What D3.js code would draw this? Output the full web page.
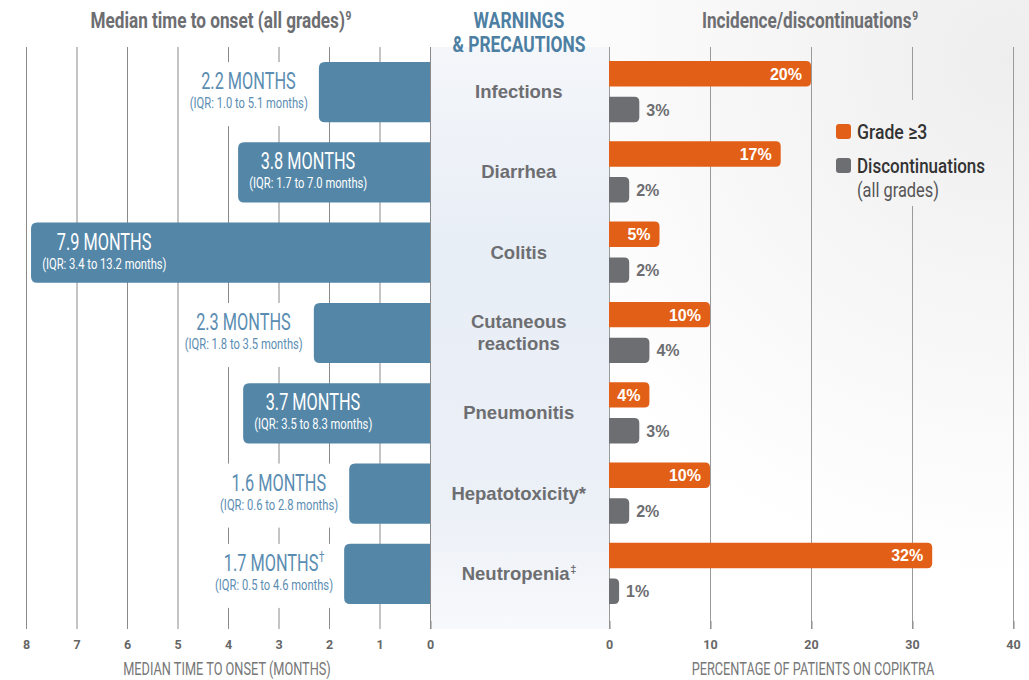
<!DOCTYPE html>
<html>
<head>
<meta charset="utf-8">
<script src="https://cdn.jsdelivr.net/npm/d3@7"></script>
<style>
  html, body { margin: 0; padding: 0; background: #fff; }
  svg { display: block; }
</style>
</head>
<body>
<svg id="chart" width="1029" height="680"></svg>
<script>
// data
var categories = ["Infections", "Diarrhea", "Colitis", "Cutaneous\nreactions", "Pneumonitis", "Hepatotoxicity*", "Neutropenia‡"];
var medianMonths = [2.2, 3.8, 7.9, 2.3, 3.7, 1.6, 1.7];
var medianLabels = ["2.2 MONTHS", "3.8 MONTHS", "7.9 MONTHS", "2.3 MONTHS", "3.7 MONTHS", "1.6 MONTHS", "1.7 MONTHS†"];
var iqrLabels = ["(IQR: 1.0 to 5.1 months)", "(IQR: 1.7 to 7.0 months)", "(IQR: 3.4 to 13.2 months)", "(IQR: 1.8 to 3.5 months)",
  "(IQR: 3.5 to 8.3 months)", "(IQR: 0.6 to 2.8 months)", "(IQR: 0.5 to 4.6 months)"];
var grade3 = [20, 17, 5, 10, 4, 10, 32];
var discontinued = [3, 2, 2, 4, 3, 2, 1];
var monthTicks = [0, 1, 2, 3, 4, 5, 6, 7, 8];
var pctTicks = [0, 10, 20, 30, 40];
var seriesNames = ["Grade ≥3", "Discontinuations"];

var COND = "Roboto, 'Liberation Sans', sans-serif";   // squeezed horizontally below
var SANS = "'Liberation Sans', Arial, sans-serif";
var blueBar = "#5386a7", blueText = "#5b8db2", orange = "#e25f17", greyBar = "#6d6e71", greyText = "#6d6e71";

var svg = d3.select("#chart");
var gridTop = 47, gridBottom = 629;

var xL = d3.scaleLinear().domain([0, 8]).range([430, 26]);
var xR = d3.scaleLinear().domain([0, 40]).range([609, 1013]);
var y = d3.scaleBand().domain(categories).range([62, 604]).paddingInner(0.25);
var ySub = d3.scaleBand().domain(seriesNames).range([0, y.bandwidth()]).paddingInner(0.27);

// no narrow font installed, so squeeze text around its own anchor point
function squeeze(sel, f) {
	sel.each(function() {
		var t = d3.select(this), x = +t.attr("x") || 0, yy = +t.attr("y") || 0;
		t.attr("transform", "translate(" + x + "," + yy + ") scale(" + f + ",1) translate(" + (-x) + "," + (-yy) + ")");
	});
	return sel;
}

// text with an optional trailing superscript mark, drawn as two texts
function supLabel(g, str, x, yy, size, f, anchor, font, weight, col) {
	var m = str.match(/^(.*?)([†‡⁹]?)$/);
	var t = g.append("text").attr("y", yy).attr("font-family", font).attr("font-weight", weight)
		.attr("font-size", size).attr("fill", col).text(m[1]);
	var w = t.node().getComputedTextLength() * f;
	var ws = 0, s = null;
	if (m[2]) {
		s = g.append("text").attr("y", yy - size * 0.38).attr("font-family", font).attr("font-weight", weight)
			.attr("font-size", size * 0.6).attr("fill", col).text(m[2] == "⁹" ? "9" : m[2]);
		ws = s.node().getComputedTextLength() * f;
	}
	var start = anchor == "middle" ? x - (w + ws + 0.5) / 2 : x;
	squeeze(t.attr("x", start), f);
	if (s) squeeze(s.attr("x", start + w + 0.5), f);
	return w + ws;
}

function leftRounded(x0, x1, y0, h, r) {
	return "M" + x1 + "," + y0 + "H" + (x0 + r) + "Q" + x0 + "," + y0 + " " + x0 + "," + (y0 + r) +
		"V" + (y0 + h - r) + "Q" + x0 + "," + (y0 + h) + " " + (x0 + r) + "," + (y0 + h) + "H" + x1 + "Z";
}
function rightRounded(x0, x1, y0, h, r) {
	return "M" + x0 + "," + y0 + "H" + (x1 - r) + "Q" + x1 + "," + y0 + " " + x1 + "," + (y0 + r) +
		"V" + (y0 + h - r) + "Q" + x1 + "," + (y0 + h) + " " + (x1 - r) + "," + (y0 + h) + "H" + x0 + "Z";
}

var defs = svg.append("defs");
var bgGrad = defs.append("radialGradient").attr("id", "bg").attr("gradientUnits", "userSpaceOnUse")
	.attr("cx", 1010).attr("cy", 60).attr("r", 520);
bgGrad.append("stop").attr("offset", "0%").attr("stop-color", "#eeeeee");
bgGrad.append("stop").attr("offset", "100%").attr("stop-color", "#ffffff");
svg.append("rect").attr("width", 1029).attr("height", 680).attr("fill", "url(#bg)");

// gridlines
svg.append("g").selectAll("line").data(monthTicks).enter().append("line")
	.attr("x1", function(d) { return xL(d) + 0.5 }).attr("x2", function(d) { return xL(d) + 0.5 })
	.attr("y1", gridTop).attr("y2", gridBottom)
	.attr("stroke", "#8a8a8a").attr("stroke-width", 1);
svg.append("g").selectAll("line").data(pctTicks).enter().append("line")
	.attr("x1", function(d) { return xR(d) + 0.5 }).attr("x2", function(d) { return xR(d) + 0.5 })
	.attr("y1", gridTop).attr("y2", gridBottom)
	.attr("stroke", "#9a9a9a").attr("stroke-width", 1);

// centre panel
var grad = defs.append("linearGradient").attr("id", "panel").attr("x1", 0).attr("y1", 0).attr("x2", 0).attr("y2", 1);
grad.append("stop").attr("offset", "0%").attr("stop-color", "#f4f6fa");
grad.append("stop").attr("offset", "35%").attr("stop-color", "#e8eef6");
grad.append("stop").attr("offset", "80%").attr("stop-color", "#ecf0f7");
grad.append("stop").attr("offset", "100%").attr("stop-color", "#f8f9fc");
svg.append("rect").attr("x", xL(0) + 1).attr("y", gridTop).attr("width", xR(0) - xL(0) - 1).attr("height", gridBottom - gridTop)
	.attr("fill", "url(#panel)");

// left bars
var rows = svg.append("g").selectAll("g").data(categories).enter().append("g");
rows.append("path")
	.attr("d", function(d, i) { return leftRounded(xL(medianMonths[i]), xL(0), y(d), y.bandwidth(), 6) })
	.attr("fill", blueBar);

// month labels
rows.each(function(d, i) {
	var g = d3.select(this);
	var inside = medianMonths[i] > 3;
	var left = xL(medianMonths[i]);
	var cy = y(d) + y.bandwidth() / 2;
	var col = inside ? "#fff" : blueText;
	var bg = g.append("rect").attr("fill", "url(#bg)");
	var iqr = g.append("text").attr("y", cy + 16).attr("font-family", COND).attr("font-size", 14)
		.attr("fill", col).attr("text-anchor", "middle").text(iqrLabels[i]);
	var w = iqr.node().getComputedTextLength() * 0.8;
	var cx = inside ? left + 11 + w / 2 : left - 11 - w / 2;
	squeeze(iqr.attr("x", cx), 0.8);
	supLabel(g, medianLabels[i], cx, cy - 3, 24, 0.68, "middle", COND, 400, col);
	if (inside) bg.remove();
	else bg.attr("x", cx - w / 2 - 3).attr("y", cy - 30).attr("width", w + 6).attr("height", 64);
});

// category labels
rows.each(function(d, i) {
	var lines = d.split("\n");
	var cy = y(d) + y.bandwidth() / 2;
	var g = d3.select(this);
	lines.forEach(function(l, j) {
		var ly = cy + 6 + (j - (lines.length - 1) / 2) * 22;
		supLabel(g, l, 519, ly, 18.5, 1, "middle", SANS, 700, greyText);
	});
});

// right bars
rows.append("path")
	.attr("d", function(d, i) { return rightRounded(xR(0), xR(grade3[i]), y(d) + ySub(seriesNames[0]) - 1, ySub.bandwidth(), 5) })
	.attr("fill", orange);
rows.append("path")
	.attr("d", function(d, i) { return rightRounded(xR(0), xR(discontinued[i]), y(d) + ySub(seriesNames[1]), ySub.bandwidth(), 5) })
	.attr("fill", greyBar);
rows.append("text")
	.attr("x", function(d, i) { return xR(grade3[i]) - 9 })
	.attr("y", function(d) { return y(d) + ySub(seriesNames[0]) + ySub.bandwidth() / 2 + 5 })
	.attr("text-anchor", "end").attr("font-family", SANS).attr("font-weight", 700).attr("font-size", 16)
	.attr("fill", "#fff").text(function(d, i) { return grade3[i] + "%" });
rows.append("text")
	.attr("x", function(d, i) { return xR(discontinued[i]) + 7 })
	.attr("y", function(d) { return y(d) + ySub(seriesNames[1]) + ySub.bandwidth() / 2 + 6 })
	.attr("font-family", SANS).attr("font-weight", 700).attr("font-size", 16)
	.attr("fill", greyText).text(function(d, i) { return discontinued[i] + "%" });

// legend
svg.append("rect").attr("x", 826).attr("y", 100).attr("width", 175).attr("height", 106).attr("fill", "url(#bg)");
var leg = svg.append("g").attr("transform", "translate(836,124)");
leg.append("rect").attr("width", 15).attr("height", 15).attr("rx", 3).attr("fill", orange);
leg.append("rect").attr("y", 34).attr("width", 15).attr("height", 15).attr("rx", 3).attr("fill", greyBar);
squeeze(leg.append("text").attr("x", 21).attr("y", 15).attr("font-family", COND).attr("font-weight", 500)
	.attr("font-size", 21).attr("fill", "#333").text(seriesNames[0]), 0.84);
squeeze(leg.append("text").attr("x", 21).attr("y", 49).attr("font-family", COND).attr("font-weight", 500)
	.attr("font-size", 21).attr("fill", "#333").text(seriesNames[1]), 0.81);
squeeze(leg.append("text").attr("x", 21).attr("y", 73).attr("font-family", COND)
	.attr("font-size", 21).attr("fill", "#555").text("(all grades)"), 0.78);

// axes
var axL = svg.append("g").attr("transform", "translate(0," + gridBottom + ")")
	.call(d3.axisBottom(xL).tickValues(monthTicks).tickSize(0).tickPadding(11));
var axR = svg.append("g").attr("transform", "translate(0," + gridBottom + ")")
	.call(d3.axisBottom(xR).tickValues(pctTicks).tickSize(0).tickPadding(11));
[axL, axR].forEach(function(a) {
	a.select(".domain").remove();
	a.selectAll("text").attr("font-family", "Roboto, sans-serif").attr("font-weight", 700).attr("font-size", 12.5).attr("fill", "#666");
});
axR.selectAll(".tick").append("line").attr("x1", 0.5).attr("x2", 0.5).attr("y1", -8).attr("y2", 0).attr("stroke", "#8a8a8a");
axL.selectAll(".tick").filter(function(d) { return d == 0 }).append("line")
	.attr("x1", 0.5).attr("x2", 0.5).attr("y1", -8).attr("y2", 0).attr("stroke", "#8a8a8a");

squeeze(svg.append("text").attr("x", 227).attr("y", 675).attr("text-anchor", "middle").attr("font-family", COND)
	.attr("font-size", 18.5).attr("fill", "#777").text("MEDIAN TIME TO ONSET (MONTHS)"), 0.69);
squeeze(svg.append("text").attr("x", 813).attr("y", 675).attr("text-anchor", "middle").attr("font-family", COND)
	.attr("font-size", 18.5).attr("fill", "#777").text("PERCENTAGE OF PATIENTS ON COPIKTRA"), 0.69);

// headers
supLabel(svg, "Median time to onset (all grades)⁹", 221, 28, 22, 0.78, "middle", COND, 700, "#6d6e71");
supLabel(svg, "Incidence/discontinuations⁹", 810, 28, 22, 0.78, "middle", COND, 700, "#6d6e71");
squeeze(svg.append("text").attr("x", 519).attr("y", 28).attr("text-anchor", "middle").attr("font-family", COND)
	.attr("font-weight", 700).attr("font-size", 22).attr("fill", "#4d7fa3").text("WARNINGS"), 0.8);
squeeze(svg.append("text").attr("x", 519).attr("y", 52).attr("text-anchor", "middle").attr("font-family", COND)
	.attr("font-weight", 700).attr("font-size", 22).attr("fill", "#4d7fa3").text("& PRECAUTIONS"), 0.79);
</script>
</body>
</html>
